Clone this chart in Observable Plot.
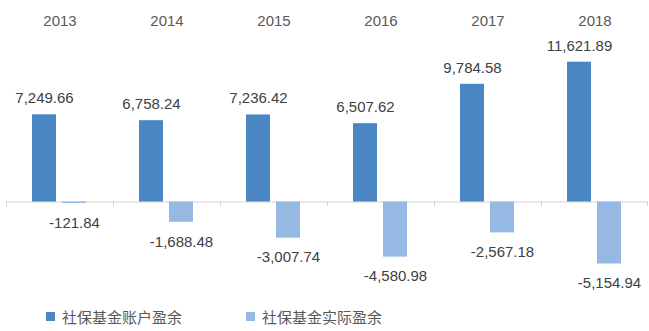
<!DOCTYPE html>
<html>
<head>
<meta charset="utf-8">
<script src="https://cdn.jsdelivr.net/npm/d3@7"></script>
<script src="https://cdn.jsdelivr.net/npm/@observablehq/plot@0.6"></script>
<style>
  html, body { margin: 0; padding: 0; background: #fff; }
  #wrap { position: relative; width: 649px; height: 331px; overflow: hidden; }
  #legend { position: absolute; left: 46px; top: 303px; height: 26px; display: flex; align-items: center;
    font-family: "Noto Sans CJK SC", sans-serif; font-size: 15px; color: #595959; }
  .item { display: flex; align-items: center; }
  .sw { width: 9px; height: 9px; margin-right: 7px; }
</style>
</head>
<body>
<div id="wrap"></div>
<script>
const years = ["2013", "2014", "2015", "2016", "2017", "2018"];
const accountSurplus = [7249.66, 6758.24, 7236.42, 6507.62, 9784.58, 11621.89];
const actualSurplus = [-121.84, -1688.48, -3007.74, -4580.98, -2567.18, -5154.94];
const seriesNames = ["社保基金账户盈余", "社保基金实际盈余"];
const seriesColors = ["#4a85c4", "#96b9e4"];

const rowsA = years.map((y, i) => ({year: y, value: accountSurplus[i]}));
const rowsB = years.map((y, i) => ({year: y, value: actualSurplus[i]}));

const fmt = d3.formatLocale({decimal: ".", thousands: ",", grouping: [3], currency: ["", ""], minus: "-"}).format(",.2f");

const W = 649, H = 300;
const yDomain = [-8188, 16750];
const pxPerUnit = H / (yDomain[1] - yDomain[0]);
const tickLen = 5 / pxPerUnit;
const band = (W - 6 - 1) / years.length;
const font = "'Liberation Sans', Arial, sans-serif";

const chart = Plot.plot({
  width: W, height: H,
  marginLeft: 6, marginRight: 1, marginTop: 0, marginBottom: 0,
  style: {fontFamily: font, background: "transparent"},
  x: {type: "band", domain: years, padding: 0, axis: null},
  y: {domain: yDomain, axis: null},
  marks: [
    Plot.ruleY([0], {stroke: "#d4d4d4", strokeWidth: 1}),
    Plot.ruleX(years, {x: d => d, dx: -band / 2, y1: 0, y2: -tickLen, stroke: "#d4d4d4"}),
    Plot.ruleX(years.slice(-1), {x: d => d, dx: band / 2 - 1, y1: 0, y2: -tickLen, stroke: "#d4d4d4"}),
    Plot.barY(rowsA, {x: "year", y: "value", fill: seriesColors[0], insetLeft: 26, insetRight: 57}),
    Plot.barY(rowsB, {x: "year", y: "value", fill: seriesColors[1], insetLeft: 56, insetRight: 27}),
    Plot.text(rowsA, {x: "year", y: "value", text: d => fmt(d.value), dx: -15.5, dy: -16.5,
      fontSize: 15, fill: "#404040", fontFamily: font}),
    Plot.text(rowsB, {x: "year", y: "value", text: d => fmt(d.value), dx: 14.5, dy: 19.5,
      fontSize: 15, fill: "#404040", fontFamily: font}),
    Plot.text(years, {x: d => d, frameAnchor: "top", dy: 14.5, text: d => d,
      fontSize: 15, fill: "#595959", fontFamily: font})
  ]
});

const wrap = document.getElementById("wrap");
wrap.appendChild(chart);

const legend = document.createElement("div");
legend.id = "legend";
seriesNames.forEach((name, i) => {
  const item = document.createElement("div");
  item.className = "item";
  if (i > 0) item.style.marginLeft = "64px";
  const sw = document.createElement("span");
  sw.className = "sw";
  sw.style.background = seriesColors[i];
  const t = document.createElement("span");
  t.textContent = name;
  item.appendChild(sw);
  item.appendChild(t);
  legend.appendChild(item);
});
wrap.appendChild(legend);
</script>
</body>
</html>
